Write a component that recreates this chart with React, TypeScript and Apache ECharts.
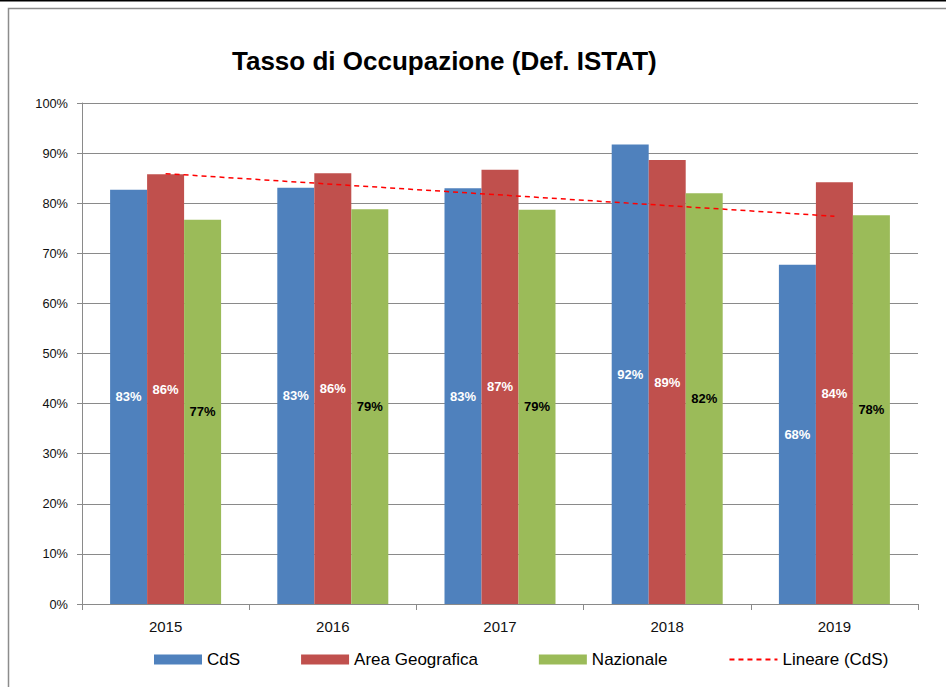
import React, { useEffect, useRef } from "react";
import * as echarts from "echarts";

const years = ["2015", "2016", "2017", "2018", "2019"];
const cdsValues = [82.7, 83.1, 83.0, 91.7, 67.7];
const areaValues = [85.8, 86.0, 86.7, 88.6, 84.2];
const nazValues = [76.7, 78.8, 78.7, 82.0, 77.6];
// Linear trendline of CdS, endpoints
const trendValues = [85.9, null, null, null, 77.4];

const FONT = "'Liberation Sans', Arial, sans-serif";

export default function App() {
  const ref = useRef<HTMLDivElement>(null);
  useEffect(() => {
    if (!ref.current) return;
    const chart = echarts.init(ref.current, null, { renderer: "svg" });
    const labelFmt = (p: any) => Math.round(p.value) + "%";
    const barLabel = (color: string) => ({
      show: true,
      position: "inside",
      formatter: labelFmt,
      color,
      fontWeight: "bold",
      fontSize: 13,
      fontFamily: FONT,
    });
    chart.setOption({
      animation: false,
      backgroundColor: "#ffffff",
      textStyle: { fontFamily: FONT },
      graphic: [
        {
          type: "line",
          shape: { x1: 0, y1: 0.5, x2: 946, y2: 0.5 },
          style: { stroke: "#000", lineWidth: 2 },
          z: 10,
        },
        {
          type: "rect",
          shape: { x: 8.5, y: 8.5, width: 1000, height: 1000 },
          style: { stroke: "#8c8c8c", lineWidth: 1.5, fill: "none" },
          z: 10,
        },
        {
          type: "text",
          left: 232,
          top: 48,
          style: {
            text: "Tasso di Occupazione (Def. ISTAT)",
            font: "bold 26px " + FONT,
            fill: "#000",
          },
          z: 10,
        },
      ],
      legend: {
        left: 154,
        top: 651,
        padding: 0,
        itemWidth: 48,
        itemHeight: 10,
        itemGap: 61,
        textStyle: { fontSize: 17, color: "#000", fontFamily: FONT },
        data: [
          { name: "CdS", icon: "rect" },
          { name: "Area Geografica", icon: "rect" },
          { name: "Nazionale", icon: "rect" },
          { name: "Lineare (CdS)", itemStyle: { opacity: 0 } },
        ],
      },
      grid: { left: 82, right: 28, top: 103, bottom: 83 },
      xAxis: {
        type: "category",
        data: years,
        axisLine: { lineStyle: { color: "#8a8a8a", width: 1 } },
        axisTick: { show: true, length: 6, lineStyle: { color: "#8a8a8a" } },
        axisLabel: { color: "#111", fontSize: 15, fontFamily: FONT, margin: 15 },
      },
      yAxis: {
        type: "value",
        min: 0,
        max: 100,
        interval: 10,
        axisLine: { show: true, lineStyle: { color: "#8a8a8a", width: 1 } },
        axisTick: { show: true, length: 5, lineStyle: { color: "#8a8a8a" } },
        axisLabel: { formatter: "{value}%", color: "#111", fontSize: 12.8, fontFamily: FONT, margin: 14 },
        splitLine: { lineStyle: { color: "#8a8a8a", width: 1.2 } },
      },
      series: [
        {
          name: "CdS",
          type: "bar",
          data: cdsValues,
          barWidth: 37,
          barGap: "0%",
          itemStyle: { color: "#4F81BD" },
          label: barLabel("#ffffff"),
        },
        {
          name: "Area Geografica",
          type: "bar",
          data: areaValues,
          barWidth: 37,
          barGap: "0%",
          itemStyle: { color: "#C0504D" },
          label: barLabel("#ffffff"),
        },
        {
          name: "Nazionale",
          type: "bar",
          data: nazValues,
          barWidth: 37,
          barGap: "0%",
          itemStyle: { color: "#9BBB59" },
          label: barLabel("#000000"),
        },
        {
          name: "Lineare (CdS)",
          type: "line",
          data: trendValues,
          connectNulls: true,
          symbol: "none",
          z: 5,
          itemStyle: { color: "#FF0000" },
          lineStyle: { color: "#FF0000", width: 1.5, type: [5, 4] },
        },
      ],
    });
    return () => chart.dispose();
  }, []);
  return (
    <div
      ref={ref}
      style={{ position: "absolute", left: 0, top: 0, width: 946, height: 687 }}
    />
  );
}
